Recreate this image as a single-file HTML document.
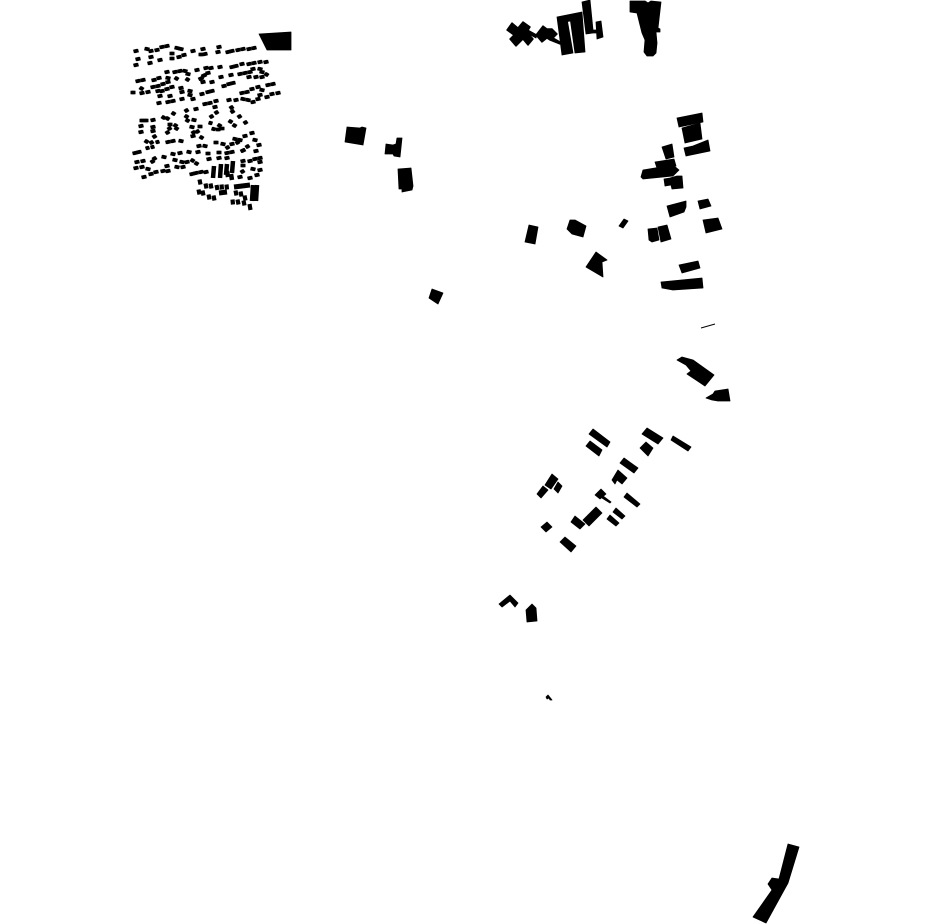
<!DOCTYPE html>
<html><head><meta charset="utf-8"><title>Map</title>
<style>html,body{margin:0;padding:0;background:#fff}svg{display:block}</style></head>
<body>
<svg width="930" height="924" viewBox="0 0 930 924" xmlns="http://www.w3.org/2000/svg">
<rect width="930" height="924" fill="#fff"/>
<g fill="#000" stroke="#000" stroke-width="0.8" stroke-linejoin="round">
<polygon points="259,34 291,32 291,50 267,50"/>
<polygon points="507,30 512,23 518,28 523,22 530,27 527,32 533,39 528,45 523,39 516,46 510,39 514,35" stroke-width="1.4"/>
<polygon points="536,35 543,26 547,29 552,29 557,34 553,38 560,42 560,44 550,40 547,38 542,42" stroke-width="1.4"/>
<polygon points="528,30 537,35 536,38 527,33"/>
<polygon points="557,17 582,12 585,52 575,53 570.5,21 567.5,21.5 573,53 562,55"/>
<polygon points="582,2 590,0 593,30 597,30 597,33 593,33 586,34"/>
<polygon points="596,22 601,21 603,37 597,39"/>
<polygon points="630,1 645,1 648,3 651,1 661,2 658,28 660,29 660,32 656,32 657,43 656,53 653,56 647,56 644,52 645,40 642,33 637,13 630,12"/>
<polygon points="677,118 702,113 703,122 679,127"/>
<polygon points="682,128 700,123 702,139 685,143"/>
<polygon points="684,148 693,146 708,140 710,151 686,156"/>
<polygon points="662,147 672,144 674,157 666,159"/>
<polygon points="655,162 674,159 676,166 657,168"/>
<polygon points="643,170 673,165 679,170 673,176 643,179 641,177"/>
<polygon points="664,179 670,178 677,176 682,176 683,188 672,189 671,185 665,186"/>
<polygon points="667,206 686,201 686,207 684,212 670,217"/>
<polygon points="698,201 708,199 711,206 700,209"/>
<polygon points="703,220 718,218 722,229 706,233"/>
<polygon points="648,229 657,228 659,240 652,242 649,240"/>
<polygon points="658,227 667,225 671,239 661,242"/>
<polygon points="679,265 698,261 700,268 682,273"/>
<polygon points="661,282 702,278 703,288 673,290 662,288"/>
<polygon points="529,225 538,227 535,244 525,242"/>
<polygon points="570,220 575,220 586,226 583,237 572,234 567,229"/>
<polygon points="624,219 628,221 623,228 619,226"/>
<polygon points="596,252 607,260 602,262 603,277 586,267"/>
<polygon points="347,127 360,128 362,127 366,128 363,145 345,142"/>
<polygon points="386,144 393,145 396,144 397,138 402,138 400,157 394,156 393,154 385,154"/>
<polygon points="398,169 411,168 413,186 412,190 402,192 402,189 399,189"/>
<polygon points="432,289 443,293 438,304 429,298"/>
<polygon points="677,360 682,357 693,360 714,375 705,386 687,374 691,371 686,365"/>
<polygon points="706,398 713,394 715,391 728,389 730,401 718,401 712,400"/>
<polygon points="593,429 610,442 607,447 589,434"/>
<polygon points="590,441 602,450 599,456 586,446"/>
<polygon points="647,428 663,438 658,444 642,434"/>
<polygon points="646,442 653,448 648,456 640,448"/>
<polygon points="673,436 691,447 688,451 671,440"/>
<polygon points="624,458 638,468 634,473 620,463"/>
<polygon points="618,470 627,478 622,484 617,480 615,484 612,480"/>
<polygon points="552,474 558,479 551,489 545,485"/>
<polygon points="543,486 548,490 541,498 537,494"/>
<polygon points="558,482 562,486 558,493 554,489"/>
<polygon points="601,489 606,494 600,499 595,495"/>
<polygon points="603,496 611,502 610,503 602,498"/>
<polygon points="627,493 640,504 637,507 624,497"/>
<polygon points="596,507 602,513 589,526 583,520"/>
<polygon points="575,516 585,524 580,529 571,522"/>
<polygon points="616,508 625,516 622,519 613,512"/>
<polygon points="610,515 619,523 616,526 607,519"/>
<polygon points="547,522 552,527 546,532 541,527"/>
<polygon points="565,537 576,546 571,552 560,542"/>
<polygon points="499,604 510,595 518,603 515,607 510,601 502,607"/>
<polygon points="526,610 532,604 536,608 537,621 527,622"/>
<polygon points="546,697 548,695 552,700 550,700 549,698 547,699"/>
<polygon points="788,844 799,847 788,883 766,923 753,917 772,890 768,884 772,878 779,879"/>
</g>
<path d="M701 328L715 324" stroke="#000" stroke-width="1" fill="none"/>
<g transform="translate(-2.5,.5)" fill="none" stroke="#000" stroke-width="3.6">
<g id="v">
<path d="M136 51l4-1M147 48l4 1M151 51l4-1M157 50l4-1M162 47l4-1M167 46l4-1M177 47l4 1M181 48l4 1M193 51l4-1M203 49l4-1M201 54l4 0M205 54l4-1M219 47l4-1M218 52l4-1M228 52l4-1M232 51l4-1M238 50l4-1M243 49l4-1M249 49l4-1M254 48l4-1M138 59l4-1M136 65l4-1M151 57l4-1M150 63l4-1M160 60l4-1M172 53l4 0M172 58l4 0M179 57l4-1M184 55l4-1"/>
<path d="M138 81l4-1M143 80l4-1M154 80l4-1M159 78l4-1M167 72l4-1M168 77l4 1M175 72l4-1M180 71l4-1M185 70l4 1M188 73l4 1M177 77l3 2M188 78l3 2M197 70l4-1M206 68l4-1M211 68l4-1M220 67l4-1M232 67l4-1M236 66l4-1M242 64l4-1M249 64l4-1M254 63l4-1M260 62l4-1M266 62l4-1M208 73l4-1M204 76l4-2M201 79l4-2M221 77l4-1M231 75l4-1M240 74l4-1M245 73l4-1M250 72l4-1M253 69l4-1M260 68l4 1M262 71l4 1M267 73l3 2M249 77l4-1M256 77l4-1M262 77l4-1"/>
<path d="M133 92l4 0M142 93l4-1M148 92l4-1M153 87l4-1M158 86l4-1M163 84l4-1M168 82l4-1M142 87l3 2M158 91l4-1M162 91l4-1M167 89l4-1M172 87l4-1M181 88l4-1M182 92l4-1M190 90l4 1M190 94l4 1M182 99l4-1M193 99l4-1M202 94l4-1M208 92l4-1M212 91l4-1M203 82l4-1M212 82l4-1M224 86l4-1M229 84l4-1M233 83l4-1"/>
<path d="M160 96l4-1M170 96l4-1M159 103l4-1M168 102l4-1M173 101l4-1M205 104l4-1M210 103l4-1M216 101l4-1M229 100l4-1M236 100l4-1M242 93l4-1M247 92l4-1M252 89l4-1M258 87l4-1M262 89l4 1M268 85l4-1M273 84l4-1M243 98l4 1M248 99l4 1M253 102l4-1M258 99l4-1M260 95l4-1M267 97l4-1M272 94l4-1M278 93l4-1"/>
<path d="M142 120l4 0M146 120l4 0M153 120l4-1M153 127l4-1M153 131l4-1M141 126l4-1M141 132l4-1M164 116l3 2M168 117l3 2M174 112l3 2M170 124l4 0M176 124l3 2M177 127l3 2M170 129l3-2M168 133l3-2M187 111l3-2M196 109l4-1M187 115l3 2M188 119l3 2M194 119l4 1M192 126l4 1M200 126l4 0M198 132l3-2M194 133l3-2M193 136l4-1M202 136l3 2"/>
<path d="M215 107l4-1M217 113l3-2M212 117l3-2M211 122l3 1M220 124l3 2M214 128l3 1M218 129l4 0M222 128l4 0M232 108l3-2M233 112l3-2M231 120l3 2M235 124l3 2M240 117l3-2M246 123l3-2M147 140l3 2M155 137l3-2M158 142l3-1M152 143l3-2M148 148l3-1M153 147l3-1M168 142l4-1M173 141l4-1M181 140l4 1M199 146l4-1M205 145l4 1M216 142l4 0M223 143l4 1M235 138l4 1M245 136l4-1M252 133l4-1M255 139l4 1M240 139l4 1M238 143l3-2M232 144l4-1M228 148l3-2M259 145l4-1M248 147l3-2M243 151l4-2M256 151l4-1"/>
<path d="M135 153l8-2M137 162l4-1M143 161l4-1M155 159l3-2M153 162l3-2M164 156l4 1M173 153l4 1M180 153l4-1M189 151l4 1M198 152l4-1M208 153l4 0M209 159l4-1M219 152l4 0M219 158l4-1M227 153l4-1M232 152l4-1M227 158l4-1M175 159l4 1M182 161l4 1M187 162l4-1M193 159l3 2M197 162l3 2M167 166l4-1M177 166l4 1M183 167l4-1M136 168l4-1M142 167l4-1M148 168l4 1M144 177l4-1M151 174l4-1M156 172l4-1M163 171l4-1M168 171l4-1M243 161l4-1M243 165l4 0M250 161l4-1M255 159l4-1M260 158l4-1M260 162l4-1M253 168l4 1M260 170l4-1M257 175l4-1M250 178l4-1M240 177l4-1M243 172l3-2M192 174l4-1M196 173l4-1M201 172l4-1M206 172l4-1"/>
</g>
<use href="#v" x="1" y="0"/>
</g>
<g fill="none" stroke="#000" stroke-width="4.2">
<path d="M199.5 179.5l1 5M205.5 183.5l1 5M210.5 183.5l1 5M216.5 185l1 5M221.5 184.5l.5 5M226.5 184.5l.5 5M198.5 189.5l1 5M202.5 190.5l1 5M208.5 194.5l1 5M213.5 195.5l1 5M235.5 190.5l1 5M240.5 191.5l1 5M244.5 195.5l1 5M232.5 199.5l.5 5M237.5 199.5l1 5M243.5 200.5l1 5M249.5 204l1 6"/>
<path d="M219 193l8-1M234 187l8-1 8-1" stroke-width="5"/>
<path d="M213 178l1-12M220 178l1-14M226 175l1-11M232 173l1-12M227 171l1 6M231 174l1 6M252 201l1-16M256 201l1-16" stroke-width="4.5"/>
</g>
</svg>
</body></html>
